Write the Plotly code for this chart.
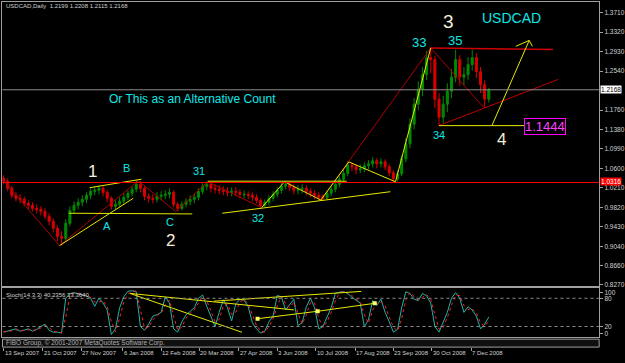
import plotly.graph_objects as go
import pandas as pd

W, H = 625, 363

# ---------------- data ----------------
bar_dates = pd.date_range("2007-09-13", periods=118, freq="4D")

opens = [1.040, 1.034, 1.020, 1.006, 1.000, 0.998, 0.990, 0.986, 0.980, 0.978,
         0.974, 0.964, 0.954, 0.940, 0.924, 0.920, 0.950, 0.976, 0.986, 0.992,
         0.998, 1.006, 1.014, 1.016, 1.020, 1.012, 1.000, 0.984, 0.988, 0.994,
         1.002, 1.010, 1.018, 1.028, 1.020, 1.004, 1.000, 0.998, 1.004, 1.006,
         1.008, 1.012, 0.988, 0.980, 0.988, 0.994, 0.998, 1.002, 1.014, 1.024,
         1.028, 1.020, 1.018, 1.016, 1.014, 1.012, 1.014, 1.012, 1.007, 1.008,
         1.006, 1.002, 0.996, 0.986, 0.992, 1.000, 1.008, 1.016, 1.024, 1.028,
         1.022, 1.016, 1.018, 1.020, 1.014, 1.010, 1.006, 1.004, 1.000, 1.010,
         1.018, 1.028, 1.038, 1.050, 1.066, 1.063, 1.057, 1.059, 1.065, 1.069,
         1.075, 1.069, 1.073, 1.063, 1.051, 1.039, 1.049, 1.079, 1.109, 1.148,
         1.188, 1.218, 1.247, 1.281, 1.277, 1.198, 1.162, 1.188, 1.214, 1.242,
         1.277, 1.242, 1.247, 1.267, 1.281, 1.253, 1.227, 1.198]
highs = [1.046, 1.040, 1.025, 1.012, 1.008, 1.004, 0.996, 0.992, 0.988, 0.984,
         0.980, 0.970, 0.960, 0.946, 0.934, 0.958, 0.984, 0.994, 1.000, 1.006,
         1.012, 1.020, 1.024, 1.026, 1.024, 1.016, 1.004, 0.996, 1.002, 1.010,
         1.016, 1.024, 1.036, 1.034, 1.024, 1.010, 1.008, 1.012, 1.014, 1.016,
         1.020, 1.016, 0.992, 0.994, 1.000, 1.006, 1.010, 1.020, 1.030, 1.034,
         1.032, 1.028, 1.026, 1.024, 1.022, 1.022, 1.022, 1.018, 1.016, 1.014,
         1.012, 1.008, 1.000, 0.998, 1.006, 1.014, 1.022, 1.030, 1.034, 1.032,
         1.028, 1.026, 1.028, 1.026, 1.020, 1.016, 1.012, 1.008, 1.016, 1.024,
         1.034, 1.044, 1.058, 1.074, 1.072, 1.068, 1.068, 1.072, 1.076, 1.082,
         1.080, 1.080, 1.078, 1.068, 1.056, 1.056, 1.086, 1.120, 1.160, 1.200,
         1.234, 1.262, 1.294, 1.2985, 1.284, 1.210, 1.205, 1.230, 1.258, 1.297,
         1.286, 1.262, 1.282, 1.297, 1.290, 1.262, 1.236, 1.2208]
lows = [1.028, 1.014, 1.000, 0.994, 0.990, 0.984, 0.978, 0.974, 0.970, 0.966,
        0.958, 0.946, 0.932, 0.914, 0.9056, 0.914, 0.944, 0.968, 0.978, 0.984,
        0.990, 0.998, 1.006, 1.008, 1.004, 0.992, 0.977, 0.978, 0.982, 0.988,
        0.996, 1.004, 1.012, 1.012, 0.996, 0.992, 0.990, 0.992, 0.996, 0.998,
        1.000, 0.982, 0.974, 0.976, 0.982, 0.986, 0.990, 0.996, 1.008, 1.016,
        1.012, 1.010, 1.008, 1.006, 1.004, 1.004, 1.004, 1.000, 1.000, 0.998,
        0.994, 0.990, 0.982, 0.982, 0.986, 0.994, 1.002, 1.010, 1.018, 1.014,
        1.008, 1.008, 1.010, 1.006, 1.002, 0.998, 0.996, 0.996, 0.998, 1.004,
        1.012, 1.022, 1.032, 1.044, 1.054, 1.048, 1.050, 1.052, 1.058, 1.062,
        1.060, 1.062, 1.056, 1.044, 1.033, 1.034, 1.044, 1.072, 1.100, 1.138,
        1.176, 1.204, 1.236, 1.250, 1.180, 1.145, 1.150, 1.172, 1.200, 1.232,
        1.225, 1.226, 1.236, 1.255, 1.240, 1.210, 1.182, 1.1915]
closes = [1.034, 1.020, 1.006, 1.000, 0.998, 0.990, 0.986, 0.980, 0.978, 0.974,
          0.964, 0.954, 0.940, 0.924, 0.920, 0.950, 0.976, 0.986, 0.992, 0.998,
          1.006, 1.014, 1.016, 1.020, 1.012, 1.000, 0.984, 0.988, 0.994, 1.002,
          1.010, 1.018, 1.028, 1.020, 1.004, 1.000, 0.998, 1.004, 1.006, 1.008,
          1.012, 0.988, 0.980, 0.988, 0.994, 0.998, 1.002, 1.014, 1.024, 1.028,
          1.020, 1.018, 1.016, 1.014, 1.012, 1.014, 1.012, 1.008, 1.008, 1.006,
          1.002, 0.996, 0.986, 0.992, 1.000, 1.008, 1.016, 1.024, 1.028, 1.022,
          1.016, 1.018, 1.020, 1.014, 1.010, 1.006, 1.002, 1.000, 1.010, 1.018,
          1.028, 1.038, 1.050, 1.066, 1.063, 1.057, 1.059, 1.065, 1.069, 1.075,
          1.069, 1.073, 1.063, 1.051, 1.039, 1.049, 1.079, 1.109, 1.148, 1.188,
          1.218, 1.247, 1.281, 1.277, 1.198, 1.162, 1.188, 1.214, 1.242, 1.277,
          1.242, 1.247, 1.267, 1.281, 1.253, 1.227, 1.198, 1.2168]

stoch_main = [8, 10, 12, 15, 10, 12, 15, 10, 14, 20,
              25, 12, 8, 8, 6, 80, 90, 92, 90, 88,
              85, 80, 63, 80, 70, 55, 3, 15, 60, 83,
              95, 96, 94, 20, 12, 25, 42, 45, 50, 83,
              70, 15, 8, 30, 45, 52, 60, 80, 87, 63,
              40, 20, 50, 77, 60, 32, 68, 78, 76, 62,
              28, 15, 6, 10, 30, 42, 86, 83, 55, 66,
              78, 22, 28, 62, 80, 60, 15, 20, 40, 60,
              90, 93, 94, 90, 82, 75, 70, 19, 35, 75,
              65, 78, 50, 30, 8, 14, 60, 94, 90, 78,
              75, 90, 85, 70, 20, 8, 28, 50, 80, 92,
              80, 50, 62, 55, 42, 15, 25, 40.2356]
stoch_signal = [9, 9, 11, 13, 12, 11, 13, 12, 12, 17,
                22, 18, 10, 8, 7, 40, 85, 91, 91, 89,
                86, 82, 72, 72, 75, 62, 30, 9, 38, 72,
                89, 95, 95, 57, 16, 18, 34, 44, 48, 66,
                76, 42, 12, 19, 38, 48, 56, 70, 84, 75,
                52, 30, 35, 64, 68, 46, 50, 73, 77, 69,
                45, 22, 10, 8, 20, 36, 64, 84, 69, 60,
                72, 50, 25, 45, 71, 70, 38, 18, 30, 50,
                75, 92, 94, 92, 86, 78, 72, 45, 27, 55,
                70, 72, 64, 40, 19, 11, 37, 77, 92, 84,
                76, 82, 88, 78, 45, 14, 18, 39, 65, 86,
                86, 65, 56, 58, 48, 28, 20, 33.3640]

price_ticks = [1.3710, 1.3320, 1.2930, 1.2540, 1.1760, 1.1380, 1.0990, 1.0600,
               1.0210, 0.9820, 0.9430, 0.9040, 0.8660, 0.8270]
date_ticks = ["2007-09-13", "2007-10-21", "2007-11-27", "2008-01-06", "2008-02-12",
              "2008-03-20", "2008-04-27", "2008-06-03", "2008-07-10", "2008-08-17",
              "2008-09-23", "2008-10-30", "2008-12-07"]
date_labels = ["13 Sep 2007", "21 Oct 2007", "27 Nov 2007", "6 Jan 2008", "12 Feb 2008",
               "20 Mar 2008", "27 Apr 2008", "3 Jun 2008", "10 Jul 2008", "17 Aug 2008",
               "23 Sep 2008", "30 Oct 2008", "7 Dec 2008"]

last_price = 1.2168
red_level = 1.0316
target_level = 1.1444

# trend-line drawings (date, price)
darkred_zigzag_x = ["2007-09-13", "2007-11-06", "2008-01-21", "2008-02-26", "2008-03-28", "2008-05-19"]
darkred_zigzag_y = [1.0356, 0.9055, 1.0350, 0.9736, 1.0330, 0.9815]
yellow_zigzag_x = ["2008-05-19", "2008-06-10", "2008-07-15", "2008-08-11", "2008-09-25", "2008-10-29"]
yellow_zigzag_y = [0.9815, 1.0330, 0.9966, 1.0727, 1.0330, 1.3005]
darkred_long_x = ["2008-07-15", "2008-10-29", "2008-12-19"]
darkred_long_y = [0.9966, 1.3005, 1.1816]
red_top_x = ["2008-10-29", "2009-02-24"]
red_top_y = [1.3005, 1.2971]
red_bottom_x = ["2008-11-06", "2009-03-01"]
red_bottom_y = [1.1452, 1.2377]
yellow_lines = [
    (["2008-11-06", "2009-01-28"], [1.1452, 1.1452]),
    (["2008-12-27", "2009-02-01"], [1.1452, 1.3155]),
    (["2009-01-19", "2009-02-01", "2009-02-04"], [1.3036, 1.3155, 1.3036]),
    (["2007-11-06", "2008-01-16"], [0.9055, 0.9999]),
    (["2007-11-15", "2008-03-13"], [0.9702, 0.9688]),
    (["2007-12-05", "2008-01-24"], [1.0212, 1.0382]),
    (["2008-04-11", "2008-09-20"], [0.9702, 1.0132]),
    (["2008-03-28", "2008-08-09"], [1.0342, 1.0342]),
]
stoch_lines = [
    (["2008-01-13", "2008-04-30"], [90.3, 7.7]),
    (["2008-01-13", "2008-06-19"], [90.3, 55.3]),
    (["2008-04-03", "2008-08-23"], [73.9, 94.6]),
]
stoch_sq_x = ["2008-05-15", "2008-07-12", "2008-09-05"]
stoch_sq_y = [36.6, 52.4, 69.3]

# text labels (text, date, price, colour-kind, size)
labels = [
    ("Or This as an Alternative Count", "2008-03-13", 1.1981, "cyan", 12),
    ("USDCAD", "2009-01-15", 1.3605, "cyan", 14),
    ("3", "2008-11-15", 1.3526, "beige", 19),
    ("33", "2008-10-18", 1.3110, "cyan", 13),
    ("35", "2008-11-21", 1.3149, "cyan", 13),
    ("34", "2008-11-06", 1.1267, "cyan", 11),
    ("4", "2009-01-05", 1.1168, "beige", 17),
    ("1", "2007-12-08", 1.0535, "beige", 17),
    ("B", "2008-01-10", 1.0614, "cyan", 11),
    ("31", "2008-03-20", 1.0555, "cyan", 11),
    ("A", "2007-12-22", 0.9445, "cyan", 11),
    ("C", "2008-02-21", 0.9524, "cyan", 11),
    ("2", "2008-02-21", 0.9148, "beige", 17),
    ("32", "2008-05-15", 0.9603, "cyan", 11),
]

# ---------------- layout helpers (pixel -> paper) ----------------
def px(x):
    return x / W

def py(y):
    return 1 - y / H

FONT = "Liberation Sans, Arial, sans-serif"
GRID = "#a0a0a0"
CYAN = "#10e6e6"
BEIGE = "#f4efdc"
YEL = "#e8e800"
DRED = "#b00000"

fig = go.Figure()

fig.add_trace(go.Candlestick(
    x=bar_dates, open=opens, high=highs, low=lows, close=closes,
    increasing=dict(line=dict(color="#008a00", width=1), fillcolor="#008a00"),
    decreasing=dict(line=dict(color="#d80000", width=1), fillcolor="#d80000"),
    whiskerwidth=0, xaxis="x", yaxis="y", showlegend=False, hoverinfo="skip"))

def line(xs, ys, color, width=1, xa="x", ya="y", dash=None):
    fig.add_trace(go.Scatter(x=xs, y=ys, mode="lines", xaxis=xa, yaxis=ya,
                             line=dict(color=color, width=width, dash=dash),
                             showlegend=False, hoverinfo="skip"))

line(darkred_zigzag_x, darkred_zigzag_y, DRED)
line(darkred_long_x, darkred_long_y, DRED)
line(red_bottom_x, red_bottom_y, "#c00000")
line(red_top_x, red_top_y, "#d00000", 1.5)
for xs, ys in yellow_lines:
    line(xs, ys, YEL)
line(yellow_zigzag_x, yellow_zigzag_y, YEL)

# stochastic
line(bar_dates, stoch_main, "#20b2aa", 1, "x2", "y2")
line(bar_dates, stoch_signal, "#ff2020", 1, "x2", "y2", "dot")
for xs, ys in stoch_lines:
    line(xs, ys, YEL, 1, "x2", "y2")
fig.add_trace(go.Scatter(x=stoch_sq_x, y=stoch_sq_y, mode="lines+markers", xaxis="x2", yaxis="y2",
                         line=dict(color=YEL, width=1),
                         marker=dict(symbol="square", size=4, color="#ffff60"),
                         showlegend=False, hoverinfo="skip"))

shapes = []
shapes.append(dict(type="line", xref="x domain", yref="y", x0=0, x1=1, y0=red_level, y1=red_level,
                   line=dict(color="#ff0000", width=1)))
shapes.append(dict(type="line", xref="x domain", yref="y", x0=0, x1=1, y0=last_price, y1=last_price,
                   line=dict(color="#8a8a8a", width=1)))
for lv in (80, 20):
    shapes.append(dict(type="line", xref="x2 domain", yref="y2", x0=0, x1=1, y0=lv, y1=lv,
                       line=dict(color="#8a8a8a", width=1, dash="dot")))
# copyright strip
shapes.append(dict(type="rect", xref="paper", yref="paper", x0=px(2.5), x1=px(603), y0=py(350), y1=py(342),
                   line=dict(color=GRID, width=1), fillcolor="#101010", layer="below"))

annotations = []
for txt, d, p, kind, size in labels:
    annotations.append(dict(x=d, y=p, xref="x", yref="y", text=txt, showarrow=False,
                            font=dict(family=FONT, size=size, color=CYAN if kind == "cyan" else BEIGE)))
annotations.append(dict(x="2009-02-16", y=target_level, xref="x", yref="y", text="1.1444", showarrow=False,
                        font=dict(family=FONT, size=13, color="#ff40ff"), bordercolor="#ff00ff",
                        borderwidth=1, borderpad=0))
annotations.append(dict(x=px(4), y=py(6), xref="paper", yref="paper", xanchor="left", yanchor="middle",
                        text="USDCAD,Daily  1.2199 1.2208 1.2115 1.2168", showarrow=False,
                        font=dict(family=FONT, size=6, color="#d0d0d0")))
annotations.append(dict(x=px(4), y=py(297), xref="paper", yref="paper", xanchor="left", yanchor="middle",
                        text="Stoch(14,3,3) 40.2356 33.3640", showarrow=False,
                        font=dict(family=FONT, size=6, color="#d0d0d0")))
annotations.append(dict(x=px(4), y=py(346), xref="paper", yref="paper", xanchor="left", yanchor="middle",
                        text="FIBO Group, © 2001-2007 MetaQuotes Software Corp.", showarrow=False,
                        font=dict(family=FONT, size=6.5, color="#b0b0b0")))
annotations.append(dict(x=px(604), y=last_price, xref="paper", yref="y", xanchor="left", yanchor="middle",
                        text="1.2168", showarrow=False, bgcolor="#ffffff", borderpad=0,
                        font=dict(family=FONT, size=6.5, color="#000000")))
annotations.append(dict(x=px(604), y=red_level, xref="paper", yref="y", xanchor="left", yanchor="middle",
                        text="1.0316", showarrow=False, bgcolor="#ff0000", borderpad=0, yshift=1,
                        font=dict(family=FONT, size=6.5, color="#ffffff")))
# date labels: left-aligned at their tick, as MetaTrader draws them
for d, t in zip(date_ticks, date_labels):
    annotations.append(dict(x=d, y=py(356), xref="x3", yref="paper", xanchor="left", yanchor="middle",
                            text=t, showarrow=False, xshift=-1,
                            font=dict(family=FONT, size=6, color="#d0d0d0")))

xr = ["2007-09-12", "2009-04-09 10:00"]
xdom = [px(2.5), px(603)]
axis_common = dict(showgrid=False, zeroline=False, showline=True, mirror=True, linecolor=GRID, linewidth=1)

fig.update_layout(
    width=W, height=H, margin=dict(l=0, r=0, t=0, b=0),
    paper_bgcolor="#000000", plot_bgcolor="#000000",
    showlegend=False,
    xaxis=dict(domain=xdom, range=xr, type="date", anchor="y", showticklabels=False, ticks="",
               rangeslider=dict(visible=False), **axis_common),
    yaxis=dict(domain=[py(288), py(2)], range=[0.8256, 1.3922], side="right", anchor="x",
               tickvals=price_ticks, ticktext=[f"{v:.4f}" for v in price_ticks],
               ticks="outside", ticklen=3, tickcolor=GRID,
               tickfont=dict(family=FONT, size=6.5, color="#d0d0d0"), **axis_common),
    xaxis2=dict(domain=xdom, range=xr, type="date", anchor="y2", matches="x", showticklabels=False,
                ticks="", **axis_common),
    yaxis2=dict(domain=[py(340), py(290)], range=[-2.7, 102.7], side="right", anchor="x2",
                tickvals=[92, 80, 20, 5], ticktext=["100", "80", "20", "0"],
                ticks="outside", ticklen=3, tickcolor=GRID,
                tickfont=dict(family=FONT, size=6.5, color="#d0d0d0"), **axis_common),
    xaxis3=dict(domain=xdom, range=xr, type="date", anchor="y3", matches="x",
                tickvals=date_ticks, showticklabels=False, ticks="outside", ticklen=3, tickcolor=GRID,
                showgrid=False, zeroline=False, showline=False),
    yaxis3=dict(domain=[py(350), py(342)], range=[0, 1], anchor="x3", visible=False),
    shapes=shapes, annotations=annotations,
)

fig.write_html("out.html")
